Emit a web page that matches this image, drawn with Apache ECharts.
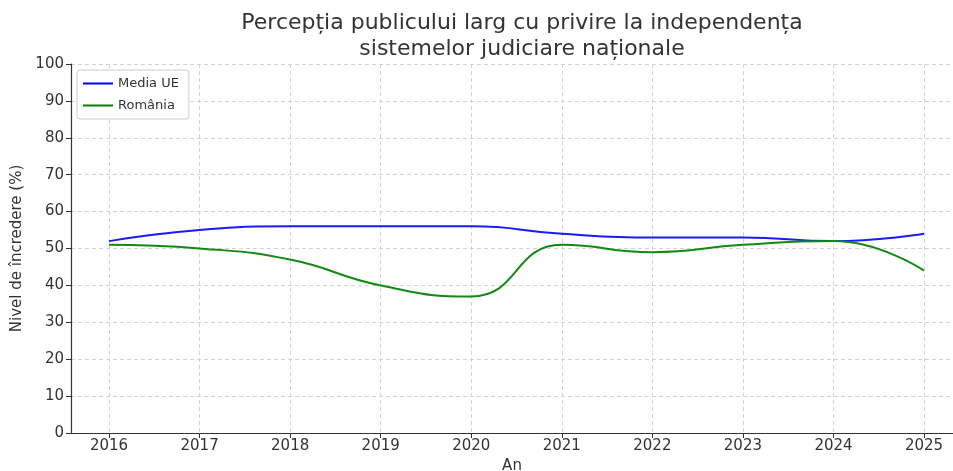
<!DOCTYPE html>
<html>
<head>
<meta charset="utf-8">
<script src="https://cdn.jsdelivr.net/npm/echarts@6/dist/echarts.min.js"></script>
<style>
  html, body { margin: 0; padding: 0; background: #fff; }
  #chart { width: 953px; height: 471px; }
</style>
</head>
<body>
<div id="chart"></div>
<script>
const years = [2016, 2017, 2018, 2019, 2020, 2021, 2022, 2023, 2024, 2025];
const mediaUE = [52, 55, 56, 56, 56, 54, 53, 53, 52, 54];
const romania = [51, 50, 47, 40, 37, 51, 49, 51, 52, 44];

const chart = echarts.init(document.getElementById("chart"));

const textColor = "#333333";
const gridLine = {
  show: true,
  lineStyle: { color: "#d4d4d4", type: [4, 3], width: 1 },
};

const option = {
  animation: false,
  title: {
    text: "Percepția publicului larg cu privire la independența\nsistemelor judiciare naționale",
    left: 517,
    top: 5,
    textAlign: "center",
    textStyle: {
      fontFamily: "DejaVu Sans",
      fontSize: 22,
      fontWeight: "normal",
      color: textColor,
      lineHeight: 26,
    },
  },
  legend: {
    orient: "vertical",
    left: 77,
    top: 70,
    data: ["Media UE", "România"],
    icon: "rect",
    itemWidth: 30,
    itemHeight: 2,
    itemGap: 9,
    padding: [7, 10, 7, 6],
    borderColor: "#cccccc",
    borderWidth: 1,
    borderRadius: 3,
    backgroundColor: "#ffffff",
    textStyle: { fontFamily: "DejaVu Sans", fontSize: 13, color: textColor },
  },
  grid: {
    left: 71,
    right: 0,
    top: 64,
    bottom: 38,
    outerBoundsMode: "none",
  },
  xAxis: {
    type: "value",
    min: 2015.58,
    max: 2025.32,
    minInterval: 1,
    maxInterval: 1,
    name: "An",
    nameLocation: "middle",
    nameGap: 26,
    nameTextStyle: { fontFamily: "DejaVu Sans", fontSize: 15, color: textColor },
    axisLine: { show: true, lineStyle: { color: "#333333", width: 1.2 } },
    axisTick: { show: true, length: 5, lineStyle: { color: "#333333" } },
    axisLabel: {
      showMinLabel: false,
      showMaxLabel: false,
      margin: 6,
      fontFamily: "DejaVu Sans",
      fontSize: 15,
      color: textColor,
      formatter: (v) => (Number.isInteger(v) ? String(v) : ""),
    },
    splitLine: gridLine,
  },
  yAxis: {
    type: "value",
    min: 0,
    max: 100,
    interval: 10,
    name: "Nivel de încredere (%)",
    nameLocation: "middle",
    nameGap: 45,
    nameTextStyle: { fontFamily: "DejaVu Sans", fontSize: 15, color: textColor },
    axisLine: { show: true, lineStyle: { color: "#333333", width: 1.2 } },
    axisTick: { show: true, length: 5, lineStyle: { color: "#333333" } },
    axisLabel: {
      margin: 7,
      fontFamily: "DejaVu Sans",
      fontSize: 15,
      color: textColor,
    },
    splitLine: gridLine,
  },
  series: [
    {
      name: "Media UE",
      type: "line",
      smooth: 0.5,
      showSymbol: false,
      data: years.map((y, i) => [y, mediaUE[i]]),
      itemStyle: { color: "#0000ff" },
      lineStyle: { color: "#1a1aff", width: 2 },
    },
    {
      name: "România",
      type: "line",
      smooth: 0.5,
      showSymbol: false,
      data: years.map((y, i) => [y, romania[i]]),
      itemStyle: { color: "#008000" },
      lineStyle: { color: "#128a12", width: 2 },
    },
  ],
};

chart.setOption(option);
</script>
</body>
</html>
